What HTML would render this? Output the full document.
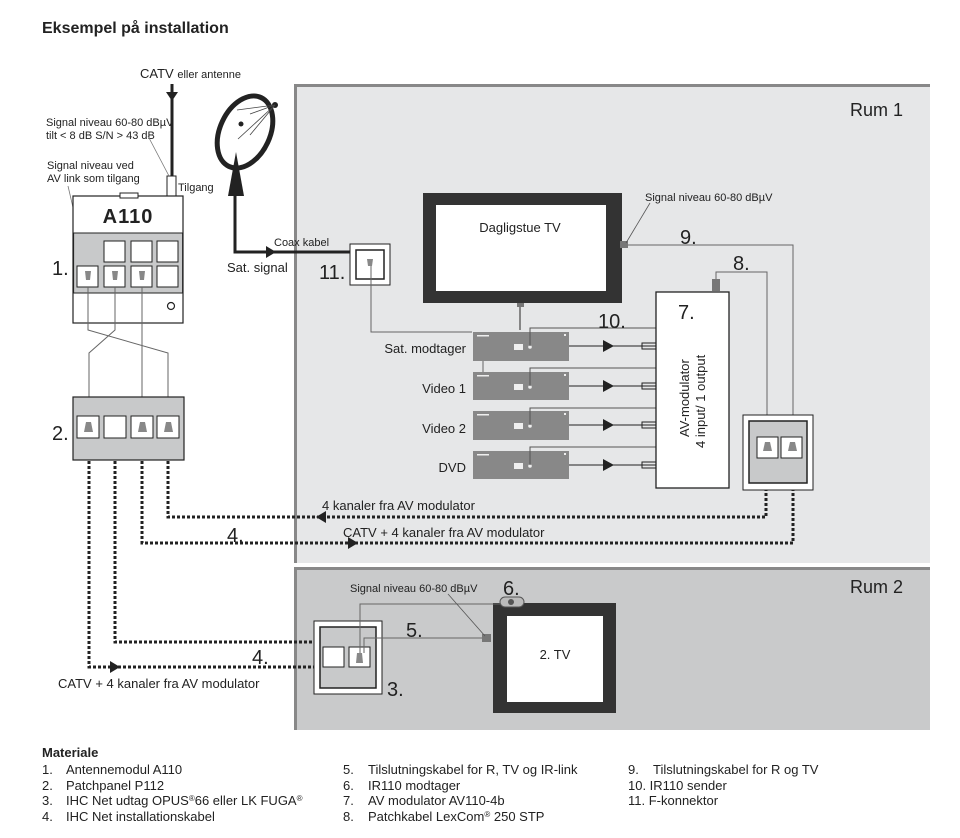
<!DOCTYPE html>
<html><head><meta charset="utf-8"><style>
body{margin:0;background:#fff}
svg{display:block;font-family:"Liberation Sans",sans-serif}
.n{font-size:13px;fill:#222}
</style></head><body>
<svg width="960" height="838" viewBox="0 0 960 838">
<text x="42" y="33" font-size="16" font-weight="bold" fill="#222">Eksempel på installation</text>
<!-- Rooms -->
<rect x="294" y="85" width="636" height="478" fill="#e6e7e8"/>
<path d="M295.5,563 V85.5 H930" stroke="#888" stroke-width="3" fill="none"/>
<rect x="294" y="567" width="636" height="163" fill="#c9cacb"/>
<path d="M295.5,730 V568.5 H930" stroke="#888" stroke-width="3" fill="none"/>
<text x="850" y="116" font-size="18" fill="#222">Rum 1</text>
<text x="850" y="593" font-size="18" fill="#222">Rum 2</text>

<!-- antenna -->
<text x="140" y="78" font-size="13" fill="#222">CATV <tspan font-size="11">eller antenne</tspan></text>
<line x1="172" y1="84" x2="172" y2="176" stroke="#222" stroke-width="3"/>
<path d="M166,92 L178,92 L172,101z" fill="#222"/>
<rect x="167" y="176" width="9" height="20" fill="#fff" stroke="#222"/>
<text x="178" y="191" font-size="11" fill="#222">Tilgang</text>
<text x="46" y="126" font-size="11" fill="#222">Signal niveau 60-80 dBµV</text>
<text x="46" y="139" font-size="11" fill="#222">tilt &lt; 8 dB S/N &gt; 43 dB</text>
<line x1="148" y1="136" x2="169" y2="176" stroke="#777" stroke-width="0.8"/>
<text x="47" y="169" font-size="11" fill="#222">Signal niveau ved</text>
<text x="47" y="182" font-size="11" fill="#222">AV link som tilgang</text>
<line x1="68" y1="186" x2="88" y2="272" stroke="#777" stroke-width="0.8"/>

<!-- A110 -->
<rect x="73" y="196" width="110" height="127" fill="#fff" stroke="#222" stroke-width="1.2"/>
<rect x="120" y="193" width="18" height="5" fill="#fff" stroke="#222"/>
<rect x="73.6" y="233" width="109" height="60" fill="#c8c9ca" stroke="#222" stroke-width="1"/>
<text x="128" y="223" font-size="20" text-anchor="middle" fill="#222" font-weight="bold" letter-spacing="1">A110</text>
<g fill="#fff" stroke="#222">
<rect x="104" y="241" width="21" height="21"/><rect x="131" y="241" width="21" height="21"/><rect x="157" y="241" width="21" height="21"/>
<rect x="77" y="266" width="21" height="21"/><rect x="104" y="266" width="21" height="21"/><rect x="131" y="266" width="21" height="21"/><rect x="157" y="266" width="21" height="21"/>
</g>
<g fill="#888"><path d="M85,271h6l-1,9h-4z"/><path d="M112,271h6l-1,9h-4z"/><path d="M139,271h6l-1,9h-4z"/></g>
<circle cx="171" cy="306" r="3.5" fill="none" stroke="#222" stroke-width="1.2"/>
<text x="52" y="275" font-size="20" fill="#222">1.</text>

<g stroke="#666" stroke-width="1" fill="none">
<path d="M88,287 V330 L168,353 V420"/>
<path d="M115,287 V330 L89,353 V420"/>
<path d="M142,287 V420"/>
</g>

<!-- patch panel -->
<rect x="73" y="397" width="111" height="63" fill="#c8c9ca" stroke="#222" stroke-width="1.2"/>
<g fill="#fff" stroke="#222">
<rect x="77" y="416" width="22" height="22"/><rect x="104" y="416" width="22" height="22"/><rect x="131" y="416" width="22" height="22"/><rect x="157" y="416" width="22" height="22"/>
</g>
<g fill="#888"><path d="M86,422h5l2,10h-9z"/><path d="M140,422h5l2,10h-9z"/><path d="M166,422h5l2,10h-9z"/></g>
<text x="52" y="440" font-size="20" fill="#222">2.</text>

<g stroke="#222" stroke-width="3" stroke-dasharray="3,2" fill="none">
<path d="M89,461 V667 H315"/>
<path d="M115,461 V642 H315"/>
<path d="M142,461 V543 H793 V490"/>
<path d="M168,461 V517 H766 V490"/>
</g>
<path d="M316,517 L326,511 L326,523z" fill="#222"/>
<path d="M358,543 L348,537 L348,549z" fill="#222"/>
<path d="M120,667 L110,661 L110,673z" fill="#222"/>
<text x="322" y="510" font-size="13" fill="#222">4 kanaler fra AV modulator</text>
<text x="343" y="537" font-size="13" fill="#222">CATV + 4 kanaler fra AV modulator</text>
<text x="227" y="542" font-size="20" fill="#222">4.</text>
<text x="252" y="664" font-size="20" fill="#222">4.</text>
<text x="58" y="688" font-size="13" fill="#222">CATV + 4 kanaler fra AV modulator</text>

<!-- satellite -->
<ellipse cx="245" cy="132" rx="25" ry="38" transform="rotate(25 245 132)" fill="#fff" stroke="#222" stroke-width="5"/>
<circle cx="241" cy="124" r="2.5" fill="#222"/>
<circle cx="275" cy="105" r="3" fill="#222"/>
<g stroke="#444" stroke-width="0.8"><line x1="237" y1="110" x2="275" y2="105"/><line x1="250" y1="114" x2="275" y2="105"/><line x1="238" y1="139" x2="275" y2="105"/><line x1="250" y1="135" x2="275" y2="105"/></g>
<path d="M236,152 L228,196 L244,196z" fill="#222"/>
<path d="M235,196 V252 H352" stroke="#222" stroke-width="3" fill="none"/>
<path d="M276,252 L266,246 L266,258z" fill="#222"/>
<text x="274" y="246" font-size="11" fill="#222">Coax kabel</text>
<text x="227" y="272" font-size="13" fill="#222">Sat. signal</text>
<rect x="350" y="244" width="40" height="41" fill="#fff" stroke="#222"/>
<rect x="356" y="250" width="28" height="29" fill="#fff" stroke="#222" stroke-width="1.5"/>
<path d="M367,259h6l-1,7h-4z" fill="#888"/>
<text x="319" y="279" font-size="20" fill="#222">11.</text>
<path d="M371,266 V332 H472" stroke="#666" fill="none"/>

<!-- Dagligstue TV -->
<rect x="423" y="193" width="199" height="110" fill="#333"/>
<rect x="436" y="205" width="170" height="86" fill="#fff"/>
<text x="520" y="232" font-size="13" text-anchor="middle" fill="#222">Dagligstue TV</text>
<rect x="517" y="303" width="7" height="4" fill="#777"/>
<line x1="520" y1="307" x2="520" y2="330" stroke="#666" stroke-width="1.5"/>
<rect x="620" y="241" width="8" height="7" fill="#777"/>
<text x="645" y="201" font-size="11" fill="#222">Signal niveau 60-80 dBµV</text>
<line x1="650" y1="203" x2="626" y2="243" stroke="#555" stroke-width="0.8"/>
<path d="M628,245 H793 V440" stroke="#666" fill="none"/>
<text x="680" y="244" font-size="20" fill="#222">9.</text>
<rect x="712" y="279" width="8" height="12" fill="#777"/>
<path d="M716,279 V272 H767 V440" stroke="#666" fill="none"/>
<text x="733" y="270" font-size="20" fill="#222">8.</text>

<g font-size="13" fill="#222" text-anchor="end">
<text x="466" y="353">Sat. modtager</text><text x="466" y="393">Video 1</text><text x="466" y="433">Video 2</text><text x="466" y="472">DVD</text>
</g>
<line x1="483" y1="361" x2="483" y2="372" stroke="#666"/>
<g fill="#888">
<rect x="473" y="332" width="96" height="29"/><rect x="473" y="372" width="96" height="28"/><rect x="473" y="411" width="96" height="29"/><rect x="473" y="451" width="96" height="28"/>
</g>
<g fill="#eee">
<rect x="477" y="335" width="12" height="1.5"/><rect x="477" y="375" width="12" height="1.5"/><rect x="477" y="414" width="12" height="1.5"/><rect x="477" y="454" width="12" height="1.5"/>
<rect x="514" y="344" width="9" height="6"/><rect x="514" y="384" width="9" height="6"/><rect x="514" y="423" width="9" height="6"/><rect x="514" y="463" width="9" height="6"/>
<circle cx="530" cy="347" r="1.8"/><circle cx="530" cy="387" r="1.8"/><circle cx="530" cy="426" r="1.8"/><circle cx="530" cy="466" r="1.8"/>
<rect x="564" y="334" width="2" height="2"/><rect x="564" y="374" width="2" height="2"/><rect x="564" y="413" width="2" height="2"/><rect x="564" y="453" width="2" height="2"/>
</g>
<g stroke="#555" fill="none">
<path d="M530,346 V328 H656"/><path d="M530,386 V368 H656"/><path d="M530,425 V408 H656"/><path d="M530,465 V447 H656"/>
</g>
<text x="598" y="328" font-size="20" fill="#222">10.</text>
<g stroke="#222" fill="none">
<line x1="569" y1="346" x2="656" y2="346"/><line x1="569" y1="386" x2="656" y2="386"/><line x1="569" y1="425" x2="656" y2="425"/><line x1="569" y1="465" x2="656" y2="465"/>
<rect x="642" y="343" width="14" height="6"/><rect x="642" y="383" width="14" height="6"/><rect x="642" y="422" width="14" height="6"/><rect x="642" y="462" width="14" height="6"/>
</g>
<g fill="#222">
<path d="M614,346 L603,340 L603,352z"/><path d="M614,386 L603,380 L603,392z"/><path d="M614,425 L603,419 L603,431z"/><path d="M614,465 L603,459 L603,471z"/>
</g>
<rect x="656" y="292" width="73" height="196" fill="#fff" stroke="#222" stroke-width="1.3"/>
<text x="678" y="319" font-size="20" fill="#222">7.</text>
<text transform="translate(689,437) rotate(-90)" font-size="13" fill="#222">AV-modulator</text>
<text transform="translate(705,448) rotate(-90)" font-size="13" fill="#222">4 input/ 1 output</text>

<rect x="743" y="415" width="70" height="75" fill="#fff" stroke="#222"/>
<rect x="749" y="421" width="58" height="62" fill="#c8c9ca" stroke="#222" stroke-width="1.5"/>
<rect x="757" y="437" width="21" height="21" fill="#fff" stroke="#222"/>
<rect x="781" y="437" width="21" height="21" fill="#fff" stroke="#222"/>
<path d="M765,442h5l2,9h-9z" fill="#888"/><path d="M790,442h5l2,9h-9z" fill="#888"/>

<!-- Rum 2 -->
<rect x="314" y="621" width="68" height="73" fill="#fff" stroke="#222"/>
<rect x="320" y="627" width="56" height="61" fill="#c8c9ca" stroke="#222" stroke-width="1.5"/>
<rect x="323" y="647" width="21" height="20" fill="#fff" stroke="#222"/>
<rect x="349" y="647" width="21" height="20" fill="#fff" stroke="#222"/>
<path d="M357,653h5l1,10h-7z" fill="#888"/>
<text x="387" y="696" font-size="20" fill="#222">3.</text>
<rect x="493" y="603" width="123" height="110" fill="#333"/>
<rect x="507" y="616" width="96" height="86" fill="#fff"/>
<text x="555" y="659" font-size="13" text-anchor="middle" fill="#222">2. TV</text>
<rect x="500" y="597" width="24" height="10" rx="5" fill="#bbb" stroke="#555"/>
<circle cx="511" cy="602" r="3" fill="#555"/>
<path d="M360,653 V604 H500" stroke="#666" fill="none"/>
<path d="M364,653 V638 H486" stroke="#666" fill="none"/>
<rect x="482" y="634" width="9" height="8" fill="#777"/>
<text x="350" y="592" font-size="11" fill="#222">Signal niveau 60-80 dBµV</text>
<line x1="448" y1="594" x2="485" y2="636" stroke="#555" stroke-width="0.8"/>
<text x="406" y="637" font-size="20" fill="#222">5.</text>
<text x="503" y="595" font-size="20" fill="#222">6.</text>

<text x="42" y="757" font-size="13" font-weight="bold" fill="#222">Materiale</text>
<g class="n">
<text x="42" y="774">1.</text><text x="66" y="774">Antennemodul A110</text>
<text x="42" y="790">2.</text><text x="66" y="790">Patchpanel P112</text>
<text x="42" y="805">3.</text><text x="66" y="805">IHC Net udtag OPUS<tspan font-size="8" dy="-4">®</tspan><tspan dy="4">66 eller LK FUGA</tspan><tspan font-size="8" dy="-4">®</tspan></text>
<text x="42" y="821">4.</text><text x="66" y="821">IHC Net installationskabel</text>
<text x="343" y="774">5.</text><text x="368" y="774">Tilslutningskabel for R, TV og IR-link</text>
<text x="343" y="790">6.</text><text x="368" y="790">IR110 modtager</text>
<text x="343" y="805">7.</text><text x="368" y="805">AV modulator AV110-4b</text>
<text x="343" y="821">8.</text><text x="368" y="821">Patchkabel LexCom<tspan font-size="8" dy="-4">®</tspan><tspan dy="4"> 250 STP</tspan></text>
<text x="628" y="774">9.</text><text x="653" y="774">Tilslutningskabel for R og TV</text>
<text x="628" y="790">10. IR110 sender</text>
<text x="628" y="805">11. F-konnektor</text>
</g>
</svg>
</body></html>
